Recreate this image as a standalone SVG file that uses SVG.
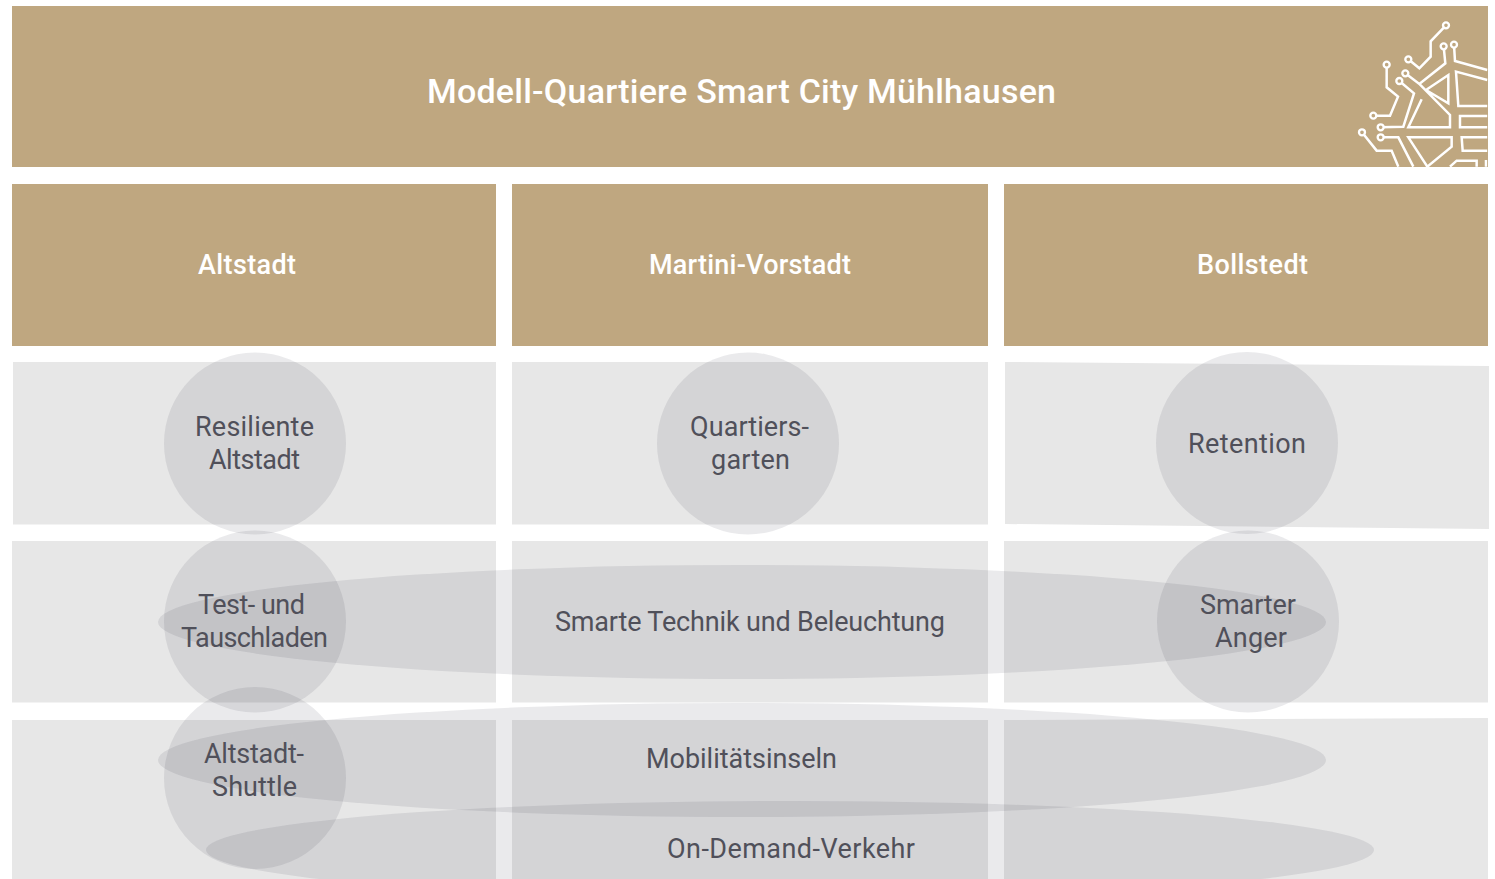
<svg xmlns="http://www.w3.org/2000/svg" width="1495" height="879" viewBox="0 0 1495 879">
<style>
.h{fill:#bfa780}
.b{fill:#e7e7e7}
.o{fill:#1c1c30;fill-opacity:.095}
text{font-family:Roboto,"Liberation Sans",sans-serif;text-anchor:middle}
.w{fill:#fff;font-weight:500;font-size:27px}
.t{fill:#50505a;font-size:27px}
.i{fill:none;stroke:#fff;stroke-width:7.5;stroke-linejoin:miter}
.c{fill:#bfa780;stroke:#fff;stroke-width:7}
</style>
<defs><clipPath id="ic"><rect x="0" y="0" width="443" height="501"/></clipPath></defs>
<rect width="1495" height="879" fill="#fff"/>
<g id="title">
<rect class="h" x="12" y="6" width="1476" height="161"/>
<text class="w" x="741.500" y="103" style="font-size:34px" textLength="629">Modell-Quartiere Smart City Mühlhausen</text>
</g>
<g id="logo" transform="translate(1340 0) scale(.3333)" clip-path="url(#ic)">
<path class="i" d="M318 76L272 124V170L238 205L205 178M311 139L316 190L238 252L196 220M342 134L345 183L442 210M140 194V262L174 290L150 347H100M178 243L222 280L190 380L122 382M258 270L325 225V310ZM238 252L330 345V382H205L245 298M442 240L348 215L355 318H442M442 348H360V382H442M122 412H175L220 500M205 412H335V440L262 500ZM442 412H365L368 452H442M66 397L110 452H155L175 500M330 500L350 482H410V500M438 480V500"/>
<circle class="c" cx="318" cy="76" r="9"/><circle class="c" cx="205" cy="178" r="9"/><circle class="c" cx="311" cy="139" r="9"/><circle class="c" cx="196" cy="220" r="9"/><circle class="c" cx="342" cy="134" r="9"/><circle class="c" cx="140" cy="194" r="9"/><circle class="c" cx="100" cy="347" r="9"/><circle class="c" cx="178" cy="243" r="9"/><circle class="c" cx="122" cy="382" r="9"/><circle class="c" cx="122" cy="412" r="9"/><circle class="c" cx="66" cy="397" r="9"/>
</g>
<g id="col-altstadt"><rect class="h" x="12" y="184" width="484" height="162"/><text class="w" x="247" y="273.500" textLength="98">Altstadt</text></g>
<g id="col-martini"><rect class="h" x="512" y="184" width="476" height="162"/><text class="w" x="750" y="273.500" textLength="202">Martini-Vorstadt</text></g>
<g id="col-bollstedt"><rect class="h" x="1004" y="184" width="484" height="162"/><text class="w" x="1252.500" y="273.500" textLength="111">Bollstedt</text></g>
<g id="bands">
<rect class="b" x="13" y="362" width="483" height="162.500"/>
<rect class="b" x="512" y="362" width="476" height="162.500"/>
<polygon class="b" points="1005,362 1489,366 1489,529 1005,524"/>
<rect class="b" x="12" y="541" width="484" height="161.500"/>
<rect class="b" x="512" y="541" width="476" height="161.500"/>
<rect class="b" x="1004" y="541" width="484" height="161.500"/>
<rect class="b" x="12" y="720" width="484" height="159"/>
<rect class="b" x="512" y="720" width="476" height="159"/>
<polygon class="b" points="1004,720 1488,718 1488,879 1004,879"/>
</g>
<g id="ellipse-technik"><ellipse class="o" cx="742" cy="622" rx="584" ry="57"/><text class="t" x="750" y="630.500" textLength="390">Smarte Technik und Beleuchtung</text></g>
<g id="ellipse-mobil"><ellipse class="o" cx="742" cy="760" rx="584" ry="57"/><text class="t" x="741.500" y="767.500" textLength="191">Mobilitätsinseln</text></g>
<g id="ellipse-ondemand"><ellipse class="o" cx="790" cy="850" rx="584" ry="49"/><text class="t" x="791" y="857.500" textLength="248">On-Demand-Verkehr</text></g>
<g id="node-resiliente"><circle class="o" cx="255" cy="443.500" r="91"/><text class="t" x="254.500" y="435.500" textLength="119">Resiliente</text><text class="t" x="254.500" y="468.500" textLength="91">Altstadt</text></g>
<g id="node-test"><circle class="o" cx="255" cy="621.500" r="91"/><text class="t" x="251.500" y="613.500" textLength="107">Test- und</text><text class="t" x="254.500" y="646.500" textLength="147">Tauschladen</text></g>
<g id="node-shuttle"><circle class="o" cx="255" cy="778" r="91"/><text class="t" x="254" y="762.500" textLength="100">Altstadt-</text><text class="t" x="254.500" y="795.500" textLength="85">Shuttle</text></g>
<g id="node-quartier"><circle class="o" cx="748" cy="443.500" r="91"/><text class="t" x="749.500" y="435.500" textLength="119">Quartiers-</text><text class="t" x="750.500" y="468.500" textLength="79">garten</text></g>
<g id="node-retention"><circle class="o" cx="1247" cy="443" r="91"/><text class="t" x="1247" y="452.500" textLength="118">Retention</text></g>
<g id="node-anger"><circle class="o" cx="1248" cy="621.500" r="91"/><text class="t" x="1248" y="613.500" textLength="96">Smarter</text><text class="t" x="1251" y="646.500" textLength="72">Anger</text></g>
</svg>
